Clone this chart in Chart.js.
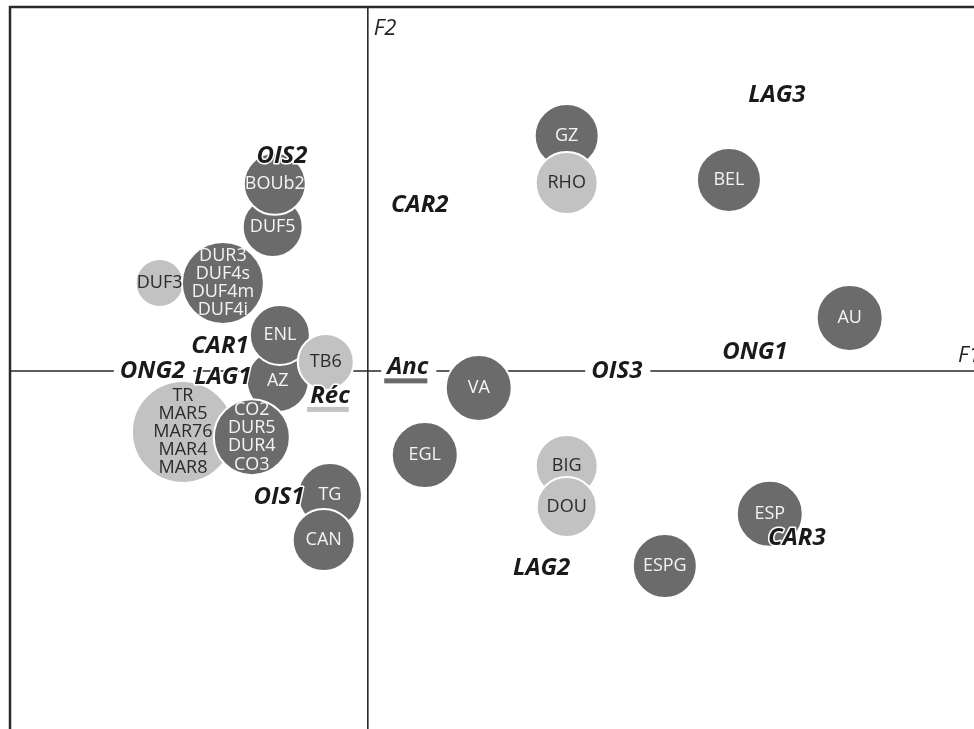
<!DOCTYPE html>
<html>
<head>
<meta charset="utf-8">
<script src="https://cdn.jsdelivr.net/npm/chart.js@4/dist/chart.umd.min.js"></script>
<style>
  html, body { margin: 0; padding: 0; background: #fff; overflow: hidden; }
  #wrap { width: 974px; height: 729px; overflow: hidden; position: relative; }
  canvas { display: block; }
</style>
</head>
<body>
<div id="wrap"><canvas id="planChart" width="1000" height="740"></canvas></div>
<script>
// sites, in drawing order (later ones sit on top)
var sites = [['DUF3'], ['DUR3', 'DUF4s', 'DUF4m', 'DUF4i'], ['DUF5'], ['BOUb2'], ['AZ'], ['ENL'], ['TB6'],
    ['TR', 'MAR5', 'MAR76', 'MAR4', 'MAR8'], ['CO2', 'DUR5', 'DUR4', 'CO3'], ['TG'], ['CAN'], ['VA'], ['EGL'],
    ['BIG'], ['DOU'], ['GZ'], ['RHO'], ['BEL'], ['AU'], ['ESPG'], ['ESP']];
var siteF1 = [-0.698, -0.486, -0.319, -0.312, -0.302, -0.295, -0.141, -0.620, -0.389, -0.127, -0.148, 0.372, 0.191,
    0.667, 0.667, 0.667, 0.667, 1.211, 1.616, 0.996, 1.348];
var siteF2 = [0.290, 0.290, 0.475, 0.617, -0.033, 0.119, 0.030, -0.201, -0.218, -0.409, -0.557, -0.056, -0.277,
    -0.313, -0.448, 0.775, 0.620, 0.630, 0.175, -0.643, -0.471];
var siteSize = [24, 41, 30, 31, 31, 30, 28, 51, 38, 32, 31, 33, 33, 31, 30, 32, 31, 32, 33, 32, 33];
var siteShade = ['light', 'dark', 'dark', 'dark', 'dark', 'dark', 'light', 'light', 'dark', 'dark', 'dark', 'dark', 'dark',
    'light', 'light', 'dark', 'light', 'dark', 'dark', 'dark', 'dark'];

// modalities written on the plane
var terms = ['LAG3', 'OIS2', 'CAR2', 'CAR1', 'ONG2', 'LAG1', 'Réc', 'Anc', 'OIS3', 'ONG1', 'OIS1', 'LAG2', 'CAR3'];
var termF1 = [1.372, -0.288, 0.174, -0.496, -0.722, -0.486, -0.127, 0.134, 0.835, 1.298, -0.298, 0.583, 1.439];
var termF2 = [0.910, 0.709, 0.547, 0.082, 0.0, -0.020, -0.082, 0.012, 0.0, 0.063, -0.415, -0.650, -0.551];
var termMark = ['', '', '', '', '', '', 'light', 'dark', '', '', '', '', ''];

var shades = { dark: '#6b6b6b', light: '#c2c2c2' };
var termFont = 'italic bold 24px "Open Sans"';

function onAxis(chart, i) {
    return Math.abs(termF2[i]) < 0.02;
}

var axesPlugin = {
    id: 'axes',
    beforeDatasetsDraw: function (chart) {
        var c = chart.ctx, a = chart.chartArea;
        var x0 = chart.scales.x.getPixelForValue(0), y0 = chart.scales.y.getPixelForValue(0);
        c.save();
        c.strokeStyle = '#2a2a2a';
        c.lineWidth = 2.5;
        c.strokeRect(a.left, a.top, a.right - a.left, a.bottom - a.top);
        c.lineWidth = 1.6;
        c.beginPath();
        c.moveTo(a.left, y0); c.lineTo(a.right, y0);
        c.moveTo(x0, a.top); c.lineTo(x0, a.bottom);
        c.stroke();
        // gaps in the F1 axis behind the labels lying on it
        c.font = termFont;
        c.fillStyle = '#fff';
        terms.forEach(function (t, i) {
            if (!onAxis(chart, i)) return;
            var x = chart.scales.x.getPixelForValue(termF1[i]);
            var w = c.measureText(t).width;
            c.fillRect(x - w / 2 - 6, y0 - 4, w + 14, 8);
        });
        c.fillStyle = '#222';
        c.font = 'italic 22px "Open Sans"';
        c.textBaseline = 'middle';
        c.fillText('F2', x0 + 6, a.top + 22);
        c.fillText('F1', a.right - 36, y0 - 15);
        c.restore();
    },
    afterDatasetsDraw: function (chart) {
        var c = chart.ctx;
        var pts = chart.getDatasetMeta(0).data;
        c.save();
        c.textAlign = 'center';
        c.textBaseline = 'middle';
        pts.forEach(function (p, i) {
            var lines = sites[i];
            var lh = 18.2;
            c.font = '18px "Open Sans"';
            c.fillStyle = siteShade[i] == 'dark' ? '#f4f4f4' : '#2b2b2b';
            lines.forEach(function (t, k) {
                c.fillText(t, p.x, p.y + (k - (lines.length - 1) / 2) * lh);
            });
        });
        c.font = termFont;
        c.lineJoin = 'round';
        terms.forEach(function (t, i) {
            var x = chart.scales.x.getPixelForValue(termF1[i]);
            var y = chart.scales.y.getPixelForValue(termF2[i]);
            var w = c.measureText(t).width;
            c.strokeStyle = '#fff';
            c.lineWidth = 3;
            c.strokeText(t, x, y);
            c.fillStyle = '#1a1a1a';
            c.fillText(t, x, y);
            if (termMark[i]) {
                c.fillStyle = shades[termMark[i]];
                c.fillRect(x - w / 2 - 3, y + 11, w + 2, 5);
            }
        });
        c.restore();
    }
};

var points = siteF1.map(function (v, i) {
    return { x: v, y: siteF2[i], r: siteSize[i] };
});

new Chart(document.getElementById('planChart').getContext('2d'), {
    type: 'bubble',
    data: {
        datasets: [{
            data: points,
            backgroundColor: siteShade.map(function (s) { return shades[s]; }),
            borderColor: '#ffffff',
            borderWidth: 2
        }]
    },
    options: {
        responsive: false,
        maintainAspectRatio: false,
        devicePixelRatio: 1,
        animation: false,
        events: [],
        layout: { autoPadding: false, padding: { left: 10, top: 7, right: 6, bottom: 5 } },
        plugins: { legend: { display: false }, tooltip: { enabled: false } },
        scales: {
            x: { type: 'linear', min: -1.2, max: 2.1, display: false },
            y: { type: 'linear', min: -1.2, max: 1.2, display: false }
        }
    },
    plugins: [axesPlugin]
});
</script>
</body>
</html>
